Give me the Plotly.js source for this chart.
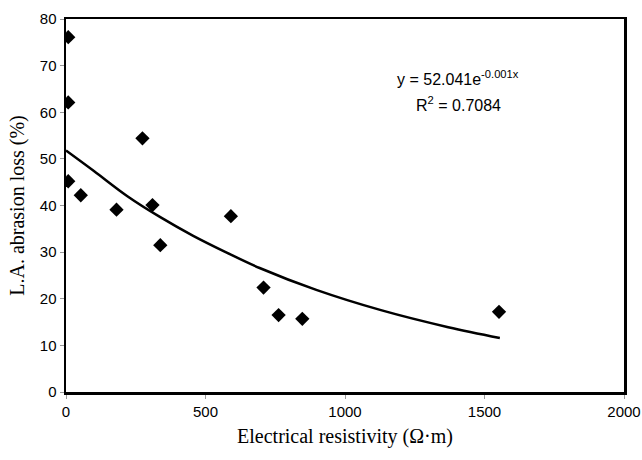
<!DOCTYPE html>
<html><head><meta charset="utf-8">
<script src="https://cdn.plot.ly/plotly-3.0.1.min.js"></script>
<style>body{margin:0;background:#fff}#c{width:642px;height:460px}</style>
</head><body><div id="c"></div>
<script>
const resistivity = [8, 8, 8, 53, 181, 274, 310, 338, 591, 708, 762, 847, 1552];
const abrasionLoss = [76.1, 62.1, 45.2, 42.2, 39.1, 54.4, 40.1, 31.5, 37.7, 22.4, 16.5, 15.7, 17.2];
const trendX = [0, 100, 220, 338, 456, 576, 694, 897, 1132, 1370, 1555];
const trendY = [51.8, 47.4, 42.0, 37.5, 33.5, 29.9, 26.6, 21.9, 17.5, 13.9, 11.6];
const xTicks = [0, 500, 1000, 1500, 2000];
const yTicks = [0, 10, 20, 30, 40, 50, 60, 70, 80];

const data = [
  {x: trendX, y: trendY, mode: 'lines', type: 'scatter', line: {color: '#000', width: 2.5, shape: 'spline'}, hoverinfo: 'skip'},
  {x: resistivity, y: abrasionLoss, mode: 'markers', type: 'scatter', marker: {symbol: 'diamond', size: 11, color: '#000'}}
];
const tickFont = {family: 'Liberation Sans, Arial, sans-serif', size: 15, color: '#000'};
const titleFont = {family: 'Liberation Serif, Times New Roman, serif', size: 20, color: '#000'};
const layout = {
  width: 642, height: 460,
  margin: {l: 66, r: 18, t: 19, b: 68},
  paper_bgcolor: '#fff', plot_bgcolor: '#fff',
  showlegend: false,
  xaxis: {range: [0, 2000], tickvals: xTicks, ticks: 'outside', ticklen: 4, tickcolor: '#999', tickfont: tickFont,
    ticklabeloverflow: 'allow',
    showgrid: false, zeroline: false, showline: true, linecolor: '#000', linewidth: 2.5, mirror: true,
    title: {text: 'Electrical resistivity (Ω·m)', font: titleFont, standoff: 11}},
  yaxis: {range: [0, 80], tickvals: yTicks, ticks: 'outside', ticklen: 4, tickcolor: '#999', tickfont: tickFont,
    showgrid: false, zeroline: false, showline: true, linecolor: '#000', linewidth: 2.5, mirror: true,
    title: {text: 'L.A. abrasion loss (%)', font: titleFont, standoff: 10}},
  annotations: [
    {x: 1406, y: 67.4, xref: 'x', yref: 'y', text: 'y = 52.041e<sup>-0.001x</sup>', showarrow: false, font: {family: 'Liberation Sans, Arial, sans-serif', size: 16, color: '#000'}},
    {x: 1406, y: 61.8, xref: 'x', yref: 'y', text: 'R<sup>2</sup> = 0.7084', showarrow: false, font: {family: 'Liberation Sans, Arial, sans-serif', size: 16, color: '#000'}}
  ]
};
Plotly.newPlot('c', data, layout, {staticPlot: true});
</script></body></html>
